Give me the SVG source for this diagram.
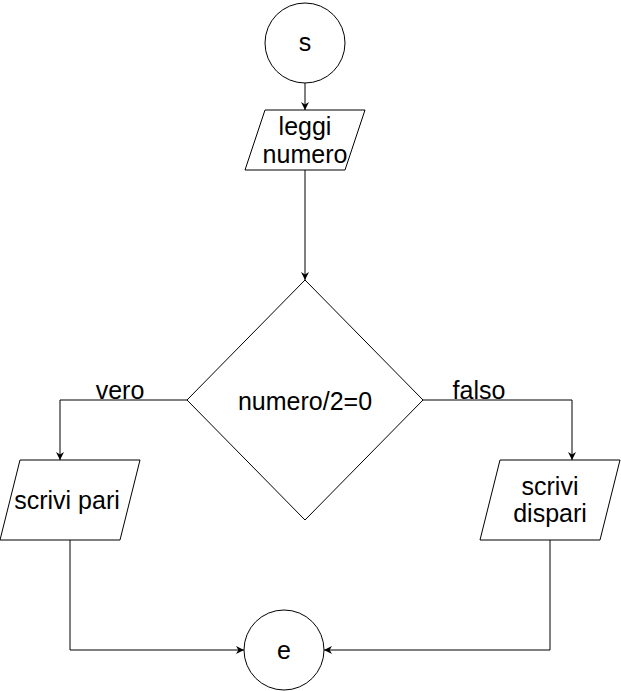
<svg xmlns="http://www.w3.org/2000/svg" width="621" height="691" viewBox="0 0 621 691">
<defs>
<marker id="arr" viewBox="0 0 10 10" refX="10" refY="5" markerWidth="8" markerHeight="8" markerUnits="userSpaceOnUse" orient="auto">
<path d="M0,0 L10,5 L0,10 L3,5 Z" fill="#000"/>
</marker>
<style>
.shape{fill:#fff;stroke:#000;stroke-width:1}
.edge{fill:none;stroke:#000;stroke-width:1;marker-end:url(#arr)}
text{font-family:"Liberation Sans",Arial,sans-serif;font-size:25px;fill:#000;text-anchor:middle}
</style>
</defs>
<rect width="621" height="691" fill="#fff"/>
<g id="connectors">
<path class="edge" d="M305,83 L305,110"/>
<path class="edge" d="M305,170 L305,280"/>
<path class="edge" d="M187,400 L60,400 L60,460"/>
<path class="edge" d="M423,400 L572,400 L572,460"/>
<path class="edge" d="M70,540 L70,650 L244,650"/>
<path class="edge" d="M550,540 L550,650 L324,650"/>
<text x="120" y="399">vero</text>
<text x="479" y="399">falso</text>
</g>
<g id="start">
<circle class="shape" cx="305" cy="43" r="40"/>
<text x="305" y="51">s</text>
</g>
<g id="leggi">
<polygon class="shape" points="265,110 365,110 345,170 245,170"/>
<text x="305" y="135">leggi</text>
<text x="305" y="163">numero</text>
</g>
<g id="decision">
<polygon class="shape" points="305,280 423,400 305,520 187,400"/>
<text x="305" y="410">numero/2=0</text>
</g>
<g id="pari">
<polygon class="shape" points="20,460 140,460 120,540 0,540"/>
<text x="67" y="509">scrivi pari</text>
</g>
<g id="dispari">
<polygon class="shape" points="500,460 620,460 600,540 480,540"/>
<text x="550" y="495">scrivi</text>
<text x="550" y="522">dispari</text>
</g>
<g id="end">
<circle class="shape" cx="284" cy="650" r="40"/>
<text x="284" y="659">e</text>
</g>
</svg>
